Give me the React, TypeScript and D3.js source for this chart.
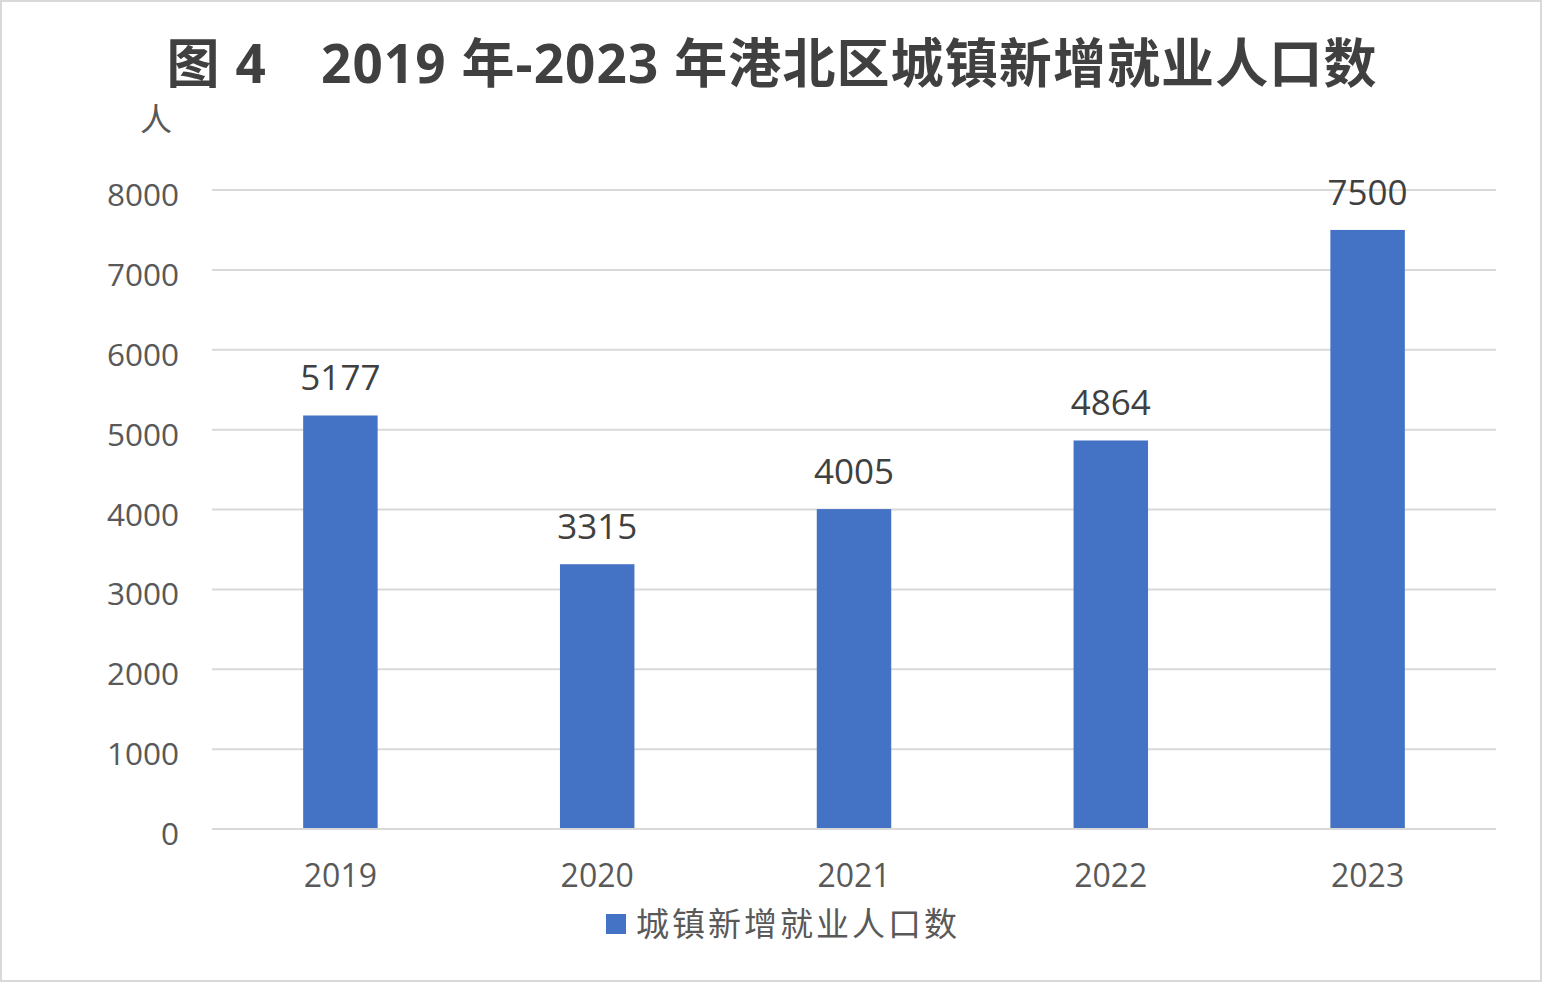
import React from "react";
import * as d3 from "d3";

const categories = ["2019", "2020", "2021", "2022", "2023"];
const values = [5177, 3315, 4005, 4864, 7500];
const yTicks = [0, 1000, 2000, 3000, 4000, 5000, 6000, 7000, 8000];
const titleText = "图 4　2019 年-2023 年港北区城镇新增就业人口数";
const unitLabel = "人";
const seriesName = "城镇新增就业人口数";

const W = 1548;
const H = 984;
const left = 212;
const right = 1496;
const top = 190;
const bottom = 829;

const latin = "'Open Sans', 'Noto Sans', 'Noto Sans CJK SC', sans-serif";
const cjk = "'Noto Sans CJK SC', 'Noto Sans', sans-serif";

export default function App() {
  const x = d3.scaleBand<string>().domain(categories).range([left, right]).paddingInner(0.71).paddingOuter(0.355);
  const y = d3.scaleLinear().domain([0, 8000]).range([bottom, top]);
  return (
    <svg width={W} height={H} style={{ position: "absolute", left: 0, top: 0, background: "#fff" }}>
      <rect x={1} y={1} width={1540} height={980} fill="#fff" stroke="#d9d9d9" strokeWidth={2} />
      <text x={772} y={83} textAnchor="middle" fontSize={53} letterSpacing={1.1} fontWeight="bold" fill="#404040" fontFamily={latin}>
        {titleText}
      </text>
      <text x={156} y={131} textAnchor="middle" fontSize={32} fill="#595959" fontFamily={cjk}>
        {unitLabel}
      </text>
      {yTicks.map((t) => (
        <g key={t}>
          <line x1={left} x2={right} y1={y(t)} y2={y(t)} stroke="#d9d9d9" strokeWidth={2} />
          <text x={179} y={y(t) + 16} textAnchor="end" fontSize={31.5} fill="#595959" fontFamily={latin}>
            {t}
          </text>
        </g>
      ))}
      {categories.map((c, i) => (
        <g key={c}>
          <rect x={x(c)} y={y(values[i])} width={x.bandwidth()} height={y(0) - y(values[i]) - 1} fill="#4472c4" />
          <text x={(x(c) as number) + x.bandwidth() / 2} y={y(values[i]) - 25} textAnchor="middle" fontSize={35} fill="#404040" fontFamily={latin}>
            {values[i]}
          </text>
          <text x={(x(c) as number) + x.bandwidth() / 2} y={887} textAnchor="middle" fontSize={32} fill="#595959" fontFamily={latin}>
            {c}
          </text>
        </g>
      ))}
      <rect x={606} y={914} width={20} height={20} fill="#4472c4" />
      <text x={636} y={936} fontSize={33} letterSpacing={3} fill="#595959" fontFamily={cjk}>
        {seriesName}
      </text>
    </svg>
  );
}
